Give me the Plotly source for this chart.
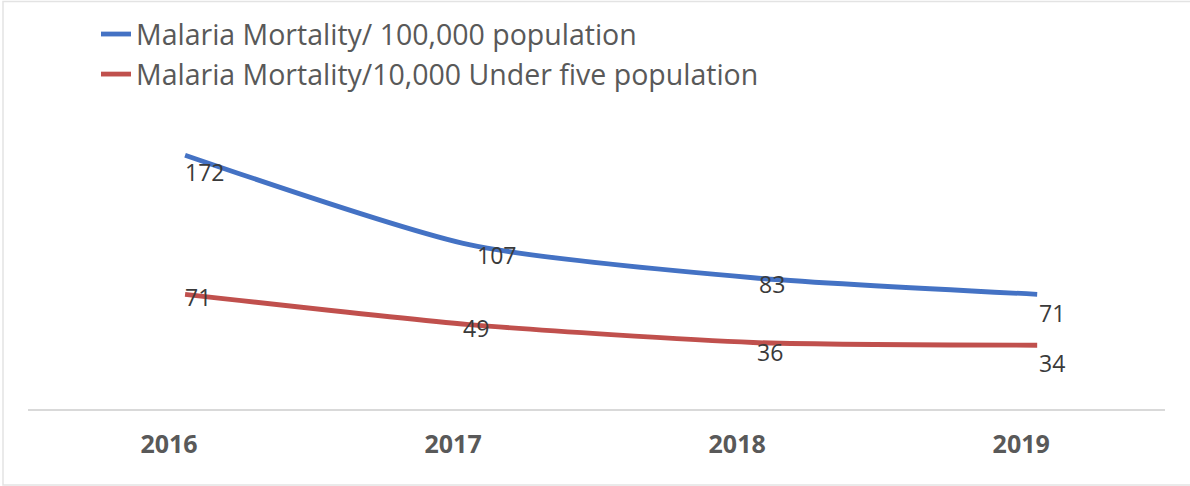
import plotly.graph_objects as go

years = ["2016", "2017", "2018", "2019"]
mort_100k = [172, 107, 83, 71]
mort_u5_10k = [71, 49, 36, 34]
series_names = ["Malaria Mortality/ 100,000 population",
                "Malaria Mortality/10,000 Under five population"]
colors = ["#4472C4", "#C0504D"]

# label offsets (px) relative to the point: (xshift of left edge, yshift of centre)
label_shift_blue = [(-2, -17), (6, -10), (4, -6), (0, -19)]
label_shift_red = [(-2, -3), (-8, -3), (2, -10), (0, -18)]

W, H = 1190, 486
L, R, T, B = 28, 25, 110, 77
pw, ph = W - L - R, H - T - B

xpos = list(range(len(years)))

fig = go.Figure()
for name, vals, col in zip(series_names, [mort_100k, mort_u5_10k], colors):
    fig.add_trace(go.Scatter(
        x=xpos, y=vals, name=name, mode="lines",
        line=dict(color=col, width=4.8, shape="spline", smoothing=0.65),
        hoverinfo="skip"))

for vals, shifts in [(mort_100k, label_shift_blue), (mort_u5_10k, label_shift_red)]:
    for xi, v, (dx, dy) in zip(xpos, vals, shifts):
        fig.add_annotation(x=xi, y=v, text=str(v), showarrow=False,
                           xanchor="left", yanchor="middle",
                           xshift=dx, yshift=dy,
                           font=dict(family="Open Sans", size=23, color="#3a3a3a"))

def px_x(p):
    return (p - L) / pw

def px_y(p):
    return (H - B - p) / ph

fig.add_shape(type="rect", xref="paper", yref="paper",
              x0=px_x(3), x1=px_x(1200), y0=px_y(485), y1=px_y(1.5),
              line=dict(color="#e3e3e3", width=1.5), fillcolor="rgba(0,0,0,0)", layer="below")

fig.update_layout(
    width=W, height=H,
    margin=dict(l=L, r=R, t=T, b=B, pad=0, autoexpand=False),
    paper_bgcolor="white", plot_bgcolor="white",
    showlegend=True,
    legend=dict(x=px_x(96), y=px_y(9), xanchor="left", yanchor="top",
                font=dict(family="Open Sans", size=28.5, color="#595959"),
                bgcolor="rgba(0,0,0,0)", tracegroupgap=0, itemwidth=30),
    xaxis=dict(range=[-0.553, 3.45], showgrid=False,
               tickmode="array", tickvals=xpos, ticktext=years,
               showline=True, linecolor="#d9d9d9", linewidth=1.5,
               ticks="outside", ticklen=12, tickcolor="rgba(0,0,0,0)",
               ticklabelshift=-16,
               tickfont=dict(family="Open Sans", size=25, color="#595959", weight="bold"),
               zeroline=False, fixedrange=True),
    yaxis=dict(range=[-12.3, 204.8], showgrid=False, showticklabels=False,
               zeroline=False, showline=False, fixedrange=True),
)

fig.write_html("out.html")
